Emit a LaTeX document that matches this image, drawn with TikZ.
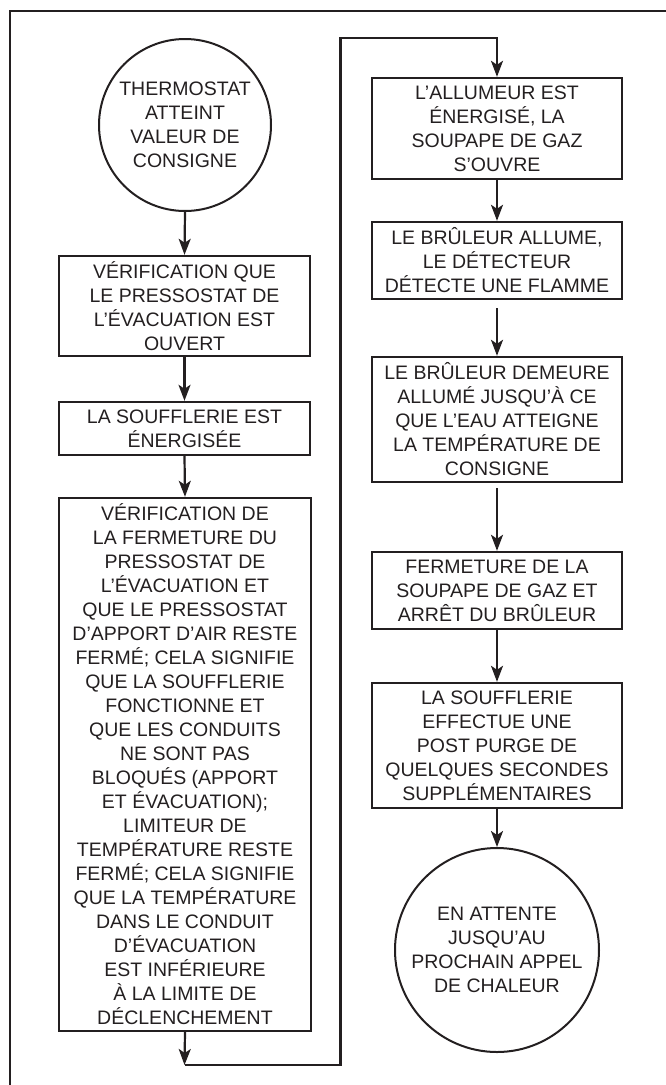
\documentclass[tikz,border=0pt]{standalone}
\usepackage{fontspec}
\setmainfont{Liberation Sans}
\usetikzlibrary{arrows.meta}
\definecolor{ink}{HTML}{231F20}
\begin{document}
\begin{tikzpicture}[x=1pt,y=-1pt,
  every node/.style={text=ink, font=\fontsize{19.5}{24}\selectfont, align=center, inner sep=0pt},
  stepbox/.style={draw=ink, line width=2.4pt, rectangle},
  roundbox/.style={draw=ink, line width=2pt, circle},
  arr/.style={draw=ink, line width=2.2pt, -{Stealth[length=16pt,width=12pt,inset=4pt]}},
  frame/.style={draw=ink, line width=2.8pt}
]
\useasboundingbox (0,0) rectangle (666,1085);
% partial outer frame
\coordinate (fa) at (10,1085);
\coordinate (fb) at (10,11);
\coordinate (fc) at (666,11);
\draw[frame] (fa) -- (fb) -- (fc);

% left column
\node[roundbox, minimum size=172pt] (c1) at (185,125) {THERMOSTAT\\ATTEINT\\VALEUR DE\\CONSIGNE};
\node[stepbox, minimum width=251pt, minimum height=100pt] (b1) at (184.5,306)
  {VÉRIFICATION QUE\\LE PRESSOSTAT DE\\L’ÉVACUATION EST\\OUVERT};
\node[stepbox, minimum width=251pt, minimum height=53pt] (b2) at (184.5,428.5)
  {LA SOUFFLERIE EST\\ÉNERGISÉE};
\node[stepbox, minimum width=252pt, minimum height=533pt] (b3) at (185,764.5)
  {VÉRIFICATION DE\\LA FERMETURE DU\\PRESSOSTAT DE\\L’ÉVACUATION ET\\QUE LE PRESSOSTAT\\D’APPORT D’AIR RESTE\\FERMÉ; CELA SIGNIFIE\\QUE LA SOUFFLERIE\\FONCTIONNE ET\\QUE LES CONDUITS\\NE SONT PAS\\BLOQUÉS (APPORT\\ET ÉVACUATION);\\LIMITEUR DE\\TEMPÉRATURE RESTE\\FERMÉ; CELA SIGNIFIE\\QUE LA TEMPÉRATURE\\DANS LE CONDUIT\\D’ÉVACUATION\\EST INFÉRIEURE\\À LA LIMITE DE\\DÉCLENCHEMENT};

% right column
\node[stepbox, minimum width=250pt, minimum height=101pt] (b4) at (497,128.5)
  {L’ALLUMEUR EST\\ÉNERGISÉ, LA\\SOUPAPE DE GAZ\\S’OUVRE};
\node[stepbox, minimum width=250pt, minimum height=77pt] (b5) at (497,260.5)
  {LE BRÛLEUR ALLUME,\\LE DÉTECTEUR\\DÉTECTE UNE FLAMME};
\node[stepbox, minimum width=250pt, minimum height=125pt] (b6) at (497,419.5)
  {LE BRÛLEUR DEMEURE\\ALLUMÉ JUSQU’À CE\\QUE L’EAU ATTEIGNE\\LA TEMPÉRATURE DE\\CONSIGNE};
\node[stepbox, minimum width=250pt, minimum height=77pt] (b7) at (497,590.5)
  {FERMETURE DE LA\\SOUPAPE DE GAZ ET\\ARRÊT DU BRÛLEUR};
\node[stepbox, minimum width=250pt, minimum height=125pt] (b8) at (497,745.5)
  {LA SOUFFLERIE\\EFFECTUE UNE\\POST PURGE DE\\QUELQUES SECONDES\\SUPPLÉMENTAIRES};
\node[roundbox, minimum size=204pt] (c2) at (497,950)
  {EN ATTENTE\\JUSQU’AU\\PROCHAIN APPEL\\DE CHALEUR};

% connectors
\draw[arr] (c1.south) -- (b1.north);
\draw[arr] (b1.south) -- (b2.north);
\draw[arr] (b2.south) -- (b3.north);
\coordinate (p1) at (184.5,1065);
\coordinate (p3) at (340.5,38);
\draw[arr] (b3.south) -- (p1);
\draw[arr] (p1) -| (p3) -| (b4.north);
\draw[arr] (b4.south) -- (b5.north);
\draw[arr, shorten <=8pt] (b5.south) -- (b6.north);
\draw[arr, shorten <=5pt] (b6.south) -- (b7.north);
\draw[arr] (b7.south) -- (b8.north);
\draw[arr] (b8.south) -- (c2.north);
\end{tikzpicture}
\end{document}
